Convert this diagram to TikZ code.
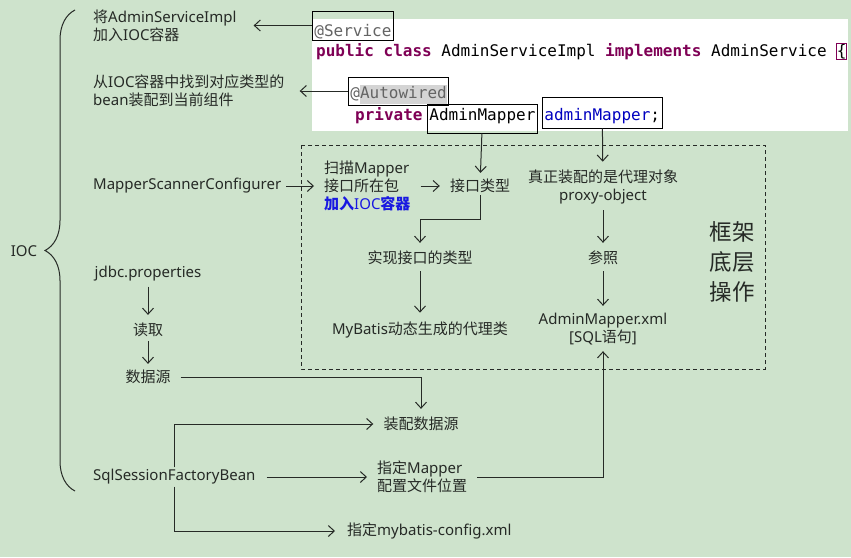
\documentclass[tikz,border=0pt]{standalone}
\usepackage{fontspec}
\setmainfont{Noto Sans}
\setmonofont{DejaVu Sans Mono}
\newfontfamily\zhfont{Noto Sans CJK SC}
\usetikzlibrary{positioning,arrows.meta,decorations.pathreplacing}
\definecolor{bgcolor}{RGB}{206,227,204}
\definecolor{inkcolor}{RGB}{38,42,38}
\definecolor{kwcolor}{RGB}{127,0,85}
\definecolor{fieldcolor}{RGB}{0,0,192}
\definecolor{annocolor}{RGB}{100,100,100}
\definecolor{hlcolor}{RGB}{212,212,212}
\definecolor{zhblue}{RGB}{25,25,225}
\newcommand{\cn}[1]{{\zhfont #1}}
\newcommand{\kw}[1]{{\color{kwcolor}\bfseries #1}}
\setlength{\fboxsep}{0pt}

\begin{document}
\begin{tikzpicture}[
  x=1pt, y=-1pt,
  font=\fontsize{15}{18}\selectfont, text=inkcolor,
  txt/.style={inner sep=2pt, align=left},
  ctr/.style={inner sep=2pt, align=center},
  code/.style={font=\ttfamily\fontsize{16}{19}\selectfont, text=black, inner xsep=2pt, inner ysep=0pt},
  codebox/.style={code, draw=black, line width=0.9pt},
  arrow/.style={-{Straight Barb[length=6pt,width=11pt]}, draw=inkcolor, line width=1pt},
  line/.style={draw=inkcolor, line width=1pt}
]
  \useasboundingbox (0,0) rectangle (851,557);
  \fill[bgcolor] (0,0) rectangle (851,557);

  % code pane
  \fill[white] (312,19) rectangle (848,131);
  \node[codebox, anchor=base west, text=annocolor, text height=25pt, text depth=4pt] (service) at (312,36) {@Service};
  \node[code, anchor=base west] (decl) at (314,56) {\kw{public} \kw{class} AdminServiceImpl \kw{implements} AdminService \fcolorbox{kwcolor}{white}{\{}};
  \node[codebox, anchor=base west, text height=21pt, text depth=7pt] (autowired) at (348,98) {{\color{annocolor}@}\colorbox{hlcolor}{\color{annocolor}\strut Autowired}};
  \node[code, anchor=base west] (private) at (353,120) {\kw{private}};
  \node[codebox, anchor=base west, text height=16pt, text depth=13pt] (admintype) at (427,120) {AdminMapper};
  \node[codebox, anchor=base west, text height=23pt, text depth=8pt] (adminvar) at (542,120) {{\color{fieldcolor}adminMapper};};

  % IOC notes
  \node[txt, anchor=west] (svcnote) at (91,26) {\cn{将}AdminServiceImpl\\\cn{加入}IOC\cn{容器}};
  \node[txt, anchor=west] (autonote) at (91,91) {\cn{从}IOC\cn{容器中找到对应类型的}\\bean\cn{装配到当前组件}};
  \draw[arrow, shorten >=15pt] (service.west) -- (service.west -| svcnote.east);
  \draw[arrow, shorten >=13pt] (autowired.west) -- (autowired.west -| autonote.east);

  % framework part
  \draw[line, dash pattern=on 4pt off 3pt] (301,145) rectangle (765,369);
  \node[txt, anchor=west] (scanner) at (91,186) {MapperScannerConfigurer};
  \node[txt, anchor=west] (scan) at (322,186) {\cn{扫描}Mapper\\\cn{接口所在包}\\{\color{zhblue}\bfseries\cn{加入}IOC\cn{容器}}};
  \node[ctr] (iface) at (480,186) {\cn{接口类型}};
  \node[ctr] (impl) at (420,258) {\cn{实现接口的类型}};
  \node[ctr] (proxycls) at (420,330) {MyBatis\cn{动态生成的代理类}};
  \node[ctr] (proxy) at (603,187) {\cn{真正装配的是代理对象}\\proxy-object};
  \node[ctr] (ref) at (603,258) {\cn{参照}};
  \node[ctr] (xml) at (603,329) {AdminMapper.xml\\{[}SQL\cn{语句}{]}};
  \node[ctr, font=\fontsize{22.5}{30}\selectfont] (layer) at (732,262) {\cn{框架}\\\cn{底层}\\\cn{操作}};

  \draw[arrow, shorten <=3pt, shorten >=8pt] (scanner) -- (scan);
  \draw[arrow, shorten <=8pt, shorten >=8pt] (scan) -- (iface);
  \draw[arrow, shorten >=4pt] (admintype) -- (iface);
  \draw[arrow, shorten >=6pt] (iface.south) -- ++(0,24) -| (impl.north);
  \draw[arrow, shorten <=4pt, shorten >=7pt] (impl) -- (proxycls);
  \draw[arrow, shorten >=6pt] (adminvar) -- (proxy);
  \draw[arrow, shorten <=4pt, shorten >=6pt] (proxy) -- (ref);
  \draw[arrow, shorten <=4pt, shorten >=5pt] (ref) -- (xml);

  % data source
  \node[txt] (jdbc) at (148,274) {jdbc.properties};
  \node[ctr] (read) at (148,330) {\cn{读取}};
  \node[ctr] (source) at (148,377) {\cn{数据源}};
  \node[ctr] (wire) at (421,424) {\cn{装配数据源}};
  \draw[arrow, shorten <=3pt, shorten >=6pt] (jdbc) -- (read);
  \draw[arrow, shorten <=2pt, shorten >=4pt] (read) -- (source);
  \draw[arrow, shorten <=8pt, shorten >=6pt] (source.east) -| (wire.north);

  % session factory
  \node[txt, anchor=west] (factory) at (91,477) {SqlSessionFactoryBean};
  \node[txt, anchor=west] (mapperloc) at (375,477) {\cn{指定}Mapper\\\cn{配置文件位置}};
  \node[txt, anchor=west] (config) at (345,531) {\cn{指定}mybatis-config.xml};
  \draw[arrow, shorten >=8pt] (factory.north) |- (wire.west);
  \draw[arrow, shorten <=9pt, shorten >=8pt] (factory) -- (mapperloc);
  \draw[arrow, shorten <=8pt, shorten >=4pt] (mapperloc.east) -| (xml.south);
  \draw[arrow, shorten >=10pt] (factory.south) |- (config.west);

  % IOC brace
  \draw[line, decorate, decoration={brace, amplitude=30pt}] (75,491) -- (75,10);
  \node[ctr] (ioc) at (24,251) {IOC};
\end{tikzpicture}
\end{document}
